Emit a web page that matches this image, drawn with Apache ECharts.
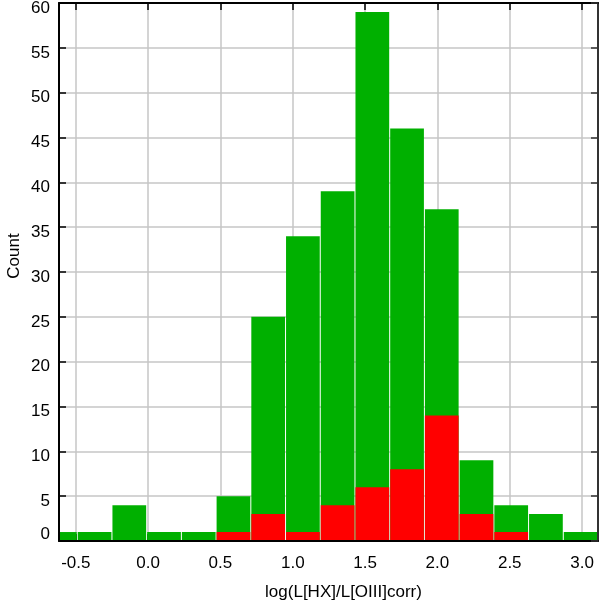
<!DOCTYPE html>
<html><head><meta charset="utf-8">
<script src="https://cdn.jsdelivr.net/npm/echarts@6/dist/echarts.min.js"></script>
<style>html,body{margin:0;padding:0;background:#fff}#c{width:600px;height:608px}</style>
</head><body><div id="c"></div>
<script>
// Histogram bins (left edges, width) and counts
const binLeft = [-0.73, -0.49, -0.25, -0.01, 0.23, 0.47, 0.71, 0.95, 1.19, 1.43, 1.67, 1.91, 2.15, 2.39, 2.63, 2.87];
const binWidth = 0.24;
const allCounts = [1, 1, 4, 1, 1, 5, 25, 34, 39, 59, 46, 37, 9, 4, 3, 1];
const subCounts = [0, 0, 0, 0, 0, 1, 3, 1, 4, 6, 8, 14, 3, 1, 0, 0];
const xTickValues = [-0.5, 0.0, 0.5, 1.0, 1.5, 2.0, 2.5, 3.0];
const xRange = [-0.616, 3.11];
const yRange = [0, 60];
const yStep = 5;
const xTitle = 'log(L[HX]/L[OIII]corr)';
const yTitle = 'Count';

const FONT = 'Liberation Sans, Arial, Helvetica, sans-serif';

function rows(counts) {
  return binLeft.map((l, i) => [l, l + binWidth, counts[i]]);
}

function barRenderer(color) {
  return function (params, api) {
    const x0 = api.value(0), x1 = api.value(1), v = api.value(2);
    if (!(v > 0)) return;
    const pTop = api.coord([x0, v]);
    const pBot = api.coord([x1, 0]);
    const cs = params.coordSys;
    let left = Math.max(pTop[0] + 0.5, cs.x + 1);
    let right = Math.min(pBot[0] - 0.5, cs.x + cs.width - 1);
    let top = Math.max(pTop[1], cs.y + 1);
    let bottom = Math.min(pBot[1], cs.y + cs.height - 1);
    if (right <= left || bottom <= top) return;
    return {
      type: 'rect',
      shape: { x: left, y: top, width: right - left, height: bottom - top },
      style: { fill: color }
    };
  };
}

const chart = echarts.init(document.getElementById('c'), null, { renderer: 'canvas' });
chart.setOption({
  animation: false,
  backgroundColor: '#fff',
  grid: { left: 59, right: 2, top: 3, bottom: 67, containLabel: false, outerBoundsMode: 'none' },
  xAxis: [{
    type: 'value', position: 'bottom', min: xRange[0], max: xRange[1],
    name: xTitle, nameLocation: 'middle', nameGap: 43, nameMoveOverlap: false,
    nameTextStyle: { fontFamily: FONT, fontSize: 17, color: '#000', padding: [0, 0, 0, 30] },
    axisLine: { show: true, onZero: false, lineStyle: { color: '#000', width: 2 } },
    axisTick: { show: true, inside: true, length: 7, customValues: xTickValues, lineStyle: { color: '#000', width: 1.5 } },
    axisLabel: { customValues: xTickValues, margin: 14, fontFamily: FONT, fontSize: 17, color: '#000',
      formatter: v => Number(v).toFixed(1) },
    splitLine: { show: true, lineStyle: { color: '#c6c6c6', width: 1.5 } }
  }, {
    type: 'value', position: 'top', min: xRange[0], max: xRange[1],
    axisLine: { show: true, onZero: false, lineStyle: { color: '#000', width: 2 } },
    axisTick: { show: true, inside: true, length: 7, customValues: xTickValues, lineStyle: { color: '#000', width: 1.5 } },
    axisLabel: { show: false },
    splitLine: { show: false }
  }],
  yAxis: [{
    type: 'value', position: 'left', min: yRange[0], max: yRange[1], interval: yStep,
    name: yTitle, nameLocation: 'middle', nameGap: 36, nameMoveOverlap: false,
    nameTextStyle: { fontFamily: FONT, fontSize: 17, color: '#000', padding: [0, 0, 0, 32] },
    axisLine: { show: true, onZero: false, lineStyle: { color: '#000', width: 2 } },
    axisTick: { show: true, inside: true, length: 7, lineStyle: { color: '#000', width: 1.5 } },
    axisLabel: { margin: 9, fontFamily: FONT, fontSize: 17, color: '#000',
      formatter: v => v === 0 ? '{z|0}' : '{n|' + v + '}',
      rich: { n: { padding: [10, 0, 0, 0], fontFamily: FONT, fontSize: 17, color: '#000' },
              z: { padding: [0, 0, 14, 0], fontFamily: FONT, fontSize: 17, color: '#000' } } },
    splitLine: { show: true, lineStyle: { color: '#c6c6c6', width: 1.5 } }
  }, {
    type: 'value', position: 'right', min: yRange[0], max: yRange[1], interval: yStep,
    axisLine: { show: true, onZero: false, lineStyle: { color: '#333', width: 2 } },
    axisTick: { show: true, inside: true, length: 7, lineStyle: { color: '#333', width: 1.5 } },
    axisLabel: { show: false },
    splitLine: { show: false }
  }],
  series: [{
    type: 'custom', name: 'all', xAxisIndex: 0, yAxisIndex: 0,
    renderItem: barRenderer('#00b000'),
    encode: { x: [0, 1], y: 2 },
    data: rows(allCounts)
  }, {
    type: 'custom', name: 'sub', xAxisIndex: 0, yAxisIndex: 0,
    renderItem: barRenderer('#ff0000'),
    encode: { x: [0, 1], y: 2 },
    data: rows(subCounts)
  }]
});
</script>
</body></html>
